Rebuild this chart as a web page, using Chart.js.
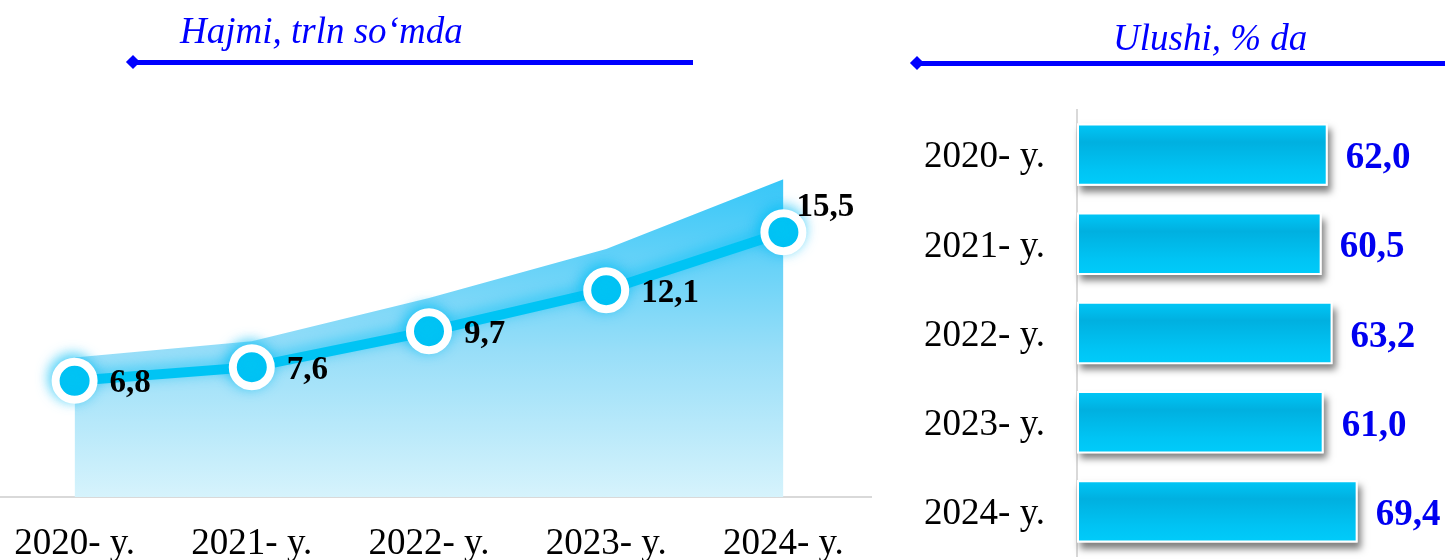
<!DOCTYPE html>
<html>
<head>
<meta charset="utf-8">
<title>Hajmi va ulushi</title>
<script src="https://cdn.jsdelivr.net/npm/chart.js@4.4.1/dist/chart.umd.min.js"></script>
<style>

    body{
        margin:0;
        width:1445px;
        height:560px;
        overflow:hidden;
        position:relative;
        background:#ffffff;
        font-family:"Liberation Serif", serif;
    }

    .title{
        position:absolute;
        font-style:italic;
        font-size:37px;
        line-height:37px;
        color:#0000ff;
        white-space:nowrap;
    }

    .rule{
        position:absolute;
        height:5px;
        background:#0000ff;
    }

    .diamond{
        position:absolute;
        width:10px;
        height:10px;
        background:#0000ff;
        transform:rotate(45deg);
    }

    canvas{
        position:absolute;
        top:0;
    }

</style>
</head>
<body>

<canvas id="volumeChart" width="886" height="560" style="left:-14px;"></canvas>
<canvas id="shareChart" width="565" height="560" style="left:880px;"></canvas>

<div class="title" style="left:180px; top:12px;">Hajmi, trln so‘mda</div>
<div class="rule" style="left:134px; top:60px; width:559px;"></div>
<div class="diamond" style="left:128px; top:57px;"></div>

<div class="title" style="left:1113px; top:19px;">Ulushi, % da</div>
<div class="rule" style="left:918px; top:61px; width:527px;"></div>
<div class="diamond" style="left:912px; top:58px;"></div>

<script>

// ================= DATA =================
let years = ["2020- y.", "2021- y.", "2022- y.", "2023- y.", "2024- y."];

let volumeValues = [6.8, 7.6, 9.7, 12.1, 15.5];

let shareValues = [62.0, 60.5, 63.2, 61.0, 69.4];

// ================= SETTINGS =================
let volumeMax = 23;

let shareMax = 91;

Chart.defaults.font.family = "'Liberation Serif', serif";

function formatValue(v){

    return v.toFixed(1).replace(".", ",");

}

/* ================= PLUGINS ================= */

// glow under the line + points
let lineGlow = {

    id: "lineGlow",

    beforeDatasetDraw(chart, args){

        if(args.index !== 0) return;

        let ctx = chart.ctx;

        ctx.save();

        ctx.shadowColor = "rgba(0,190,245,0.7)";
        ctx.shadowBlur = 14;
        ctx.shadowOffsetX = -2;
        ctx.shadowOffsetY = -3;

    },

    afterDatasetDraw(chart, args){

        if(args.index !== 0) return;

        chart.ctx.restore();

    }

};

let volumeLabels = {

    id: "volumeLabels",

    afterDatasetsDraw(chart){

        let ctx = chart.ctx;

        let meta = chart.getDatasetMeta(0);

        ctx.save();

        ctx.font = "bold 33px 'Liberation Serif'";
        ctx.fillStyle = "#000000";
        ctx.textAlign = "left";
        ctx.textBaseline = "middle";

        meta.data.forEach((pt, i) => {

            let last = i === meta.data.length - 1;

            let x = pt.x + (last ? 13 : 35);
            let y = pt.y + (last ? -25 : 3);

            ctx.fillText(formatValue(volumeValues[i]), x, y);

        });

        ctx.restore();

    }

};

// soft drop shadow under every bar
let barShadow = {

    id: "barShadow",

    beforeDatasetsDraw(chart){

        let ctx = chart.ctx;

        let meta = chart.getDatasetMeta(0);

        ctx.save();

        ctx.shadowColor = "rgba(0,0,0,0.5)";
        ctx.shadowBlur = 7;
        ctx.shadowOffsetX = 3;
        ctx.shadowOffsetY = 6;
        ctx.fillStyle = "#ffffff";

        meta.data.forEach(bar => {

            let p = bar.getProps(["x", "y", "base", "height"], true);

            ctx.fillRect(p.base, p.y - p.height / 2, p.x - p.base, p.height);

        });

        ctx.restore();

    }

};

let shareLabels = {

    id: "shareLabels",

    afterDatasetsDraw(chart){

        let ctx = chart.ctx;

        let meta = chart.getDatasetMeta(0);

        ctx.save();

        ctx.font = "bold 37px 'Liberation Serif'";
        ctx.fillStyle = "#0000f0";
        ctx.textAlign = "left";
        ctx.textBaseline = "middle";

        meta.data.forEach((bar, i) => {

            ctx.fillText(formatValue(shareValues[i]), bar.x + 18, bar.y + 4);

        });

        ctx.restore();

    }

};

/* ================= VOLUME CHART ================= */

function areaGradient(c){

    let chart = c.chart;

    let area = chart.chartArea;

    if(!area) return "rgba(60,200,248,0.6)";

    let g = chart.ctx.createLinearGradient(0, area.top + 70, 0, area.bottom);

    g.addColorStop(0, "#34c6f8");
    g.addColorStop(0.55, "#98def8");
    g.addColorStop(1, "#d6f3fc");

    return g;

}

new Chart(document.getElementById("volumeChart"), {

    type: "line",

    data: {

        labels: years,

        datasets: [

            {
                data: volumeValues,
                borderColor: "#00c4f4",
                borderWidth: 10,
                tension: 0,
                fill: false,
                pointRadius: 19,
                pointHoverRadius: 19,
                pointBorderWidth: 8,
                pointBorderColor: "#ffffff",
                pointBackgroundColor: "#00c4f4",
                yAxisID: "y"
            },

            {
                data: volumeValues,
                borderWidth: 0,
                pointRadius: 0,
                tension: 0,
                fill: "origin",
                backgroundColor: areaGradient,
                yAxisID: "y2"
            }

        ]

    },

    options: {

        responsive: false,

        animation: false,

        events: [],

        layout: {
            autoPadding: false,
            padding: { top: 104, left: 0, right: 0, bottom: 0 }
        },

        plugins: {
            legend: { display: false },
            tooltip: { enabled: false }
        },

        scales: {

            x: {
                offset: true,
                grid: { display: false, drawTicks: false },
                border: { display: true, color: "#d9d9d9", width: 2 },
                ticks: {
                    color: "#000000",
                    padding: 25,
                    font: { size: 37 }
                },
                afterFit(scale){
                    scale.height = 63;
                }
            },

            y: {
                display: false,
                min: 0,
                max: volumeMax
            },

            y2: {
                display: false,
                min: 0,
                max: volumeMax / 1.2
            }

        }

    },

    plugins: [lineGlow, volumeLabels]

});

/* ================= SHARE CHART ================= */

function barGradient(c){

    let chart = c.chart;

    let yScale = chart.scales.y;

    if(!yScale || c.type !== "data") return "#00c4f4";

    let center = yScale.getPixelForValue(c.dataIndex);

    let half = yScale.height / shareValues.length * 0.7 / 2;

    if(!isFinite(center) || !isFinite(half) || half <= 0) return "#00c4f4";

    let g = chart.ctx.createLinearGradient(0, center - half, 0, center + half);

    g.addColorStop(0, "#00c8f8");
    g.addColorStop(0.3, "#00b0e0");
    g.addColorStop(0.75, "#00c4f4");
    g.addColorStop(1, "#00ccfa");

    return g;

}

new Chart(document.getElementById("shareChart"), {

    type: "bar",

    data: {

        labels: years,

        datasets: [{

            data: shareValues,

            backgroundColor: barGradient,

            borderColor: "#ffffff",

            borderWidth: 2,

            borderSkipped: false,

            categoryPercentage: 1,

            barPercentage: 0.7

        }]

    },

    options: {

        indexAxis: "y",

        responsive: false,

        animation: false,

        events: [],

        layout: {
            autoPadding: false,
            padding: { top: 110, bottom: 4, left: 0, right: 0 }
        },

        plugins: {
            legend: { display: false },
            tooltip: { enabled: false }
        },

        scales: {

            x: {
                display: false,
                min: 0,
                max: shareMax
            },

            y: {
                grid: { display: false, drawTicks: false },
                border: { display: true, color: "#d9d9d9", width: 2 },
                ticks: {
                    color: "#000000",
                    padding: 32,
                    labelOffset: 3,
                    font: { size: 37 }
                },
                afterFit(scale){
                    scale.width = 197;
                    scale.paddingTop = 0;
                    scale.paddingBottom = 0;
                }
            }

        }

    },

    plugins: [barShadow, shareLabels]

});

</script>
</body>
</html>
